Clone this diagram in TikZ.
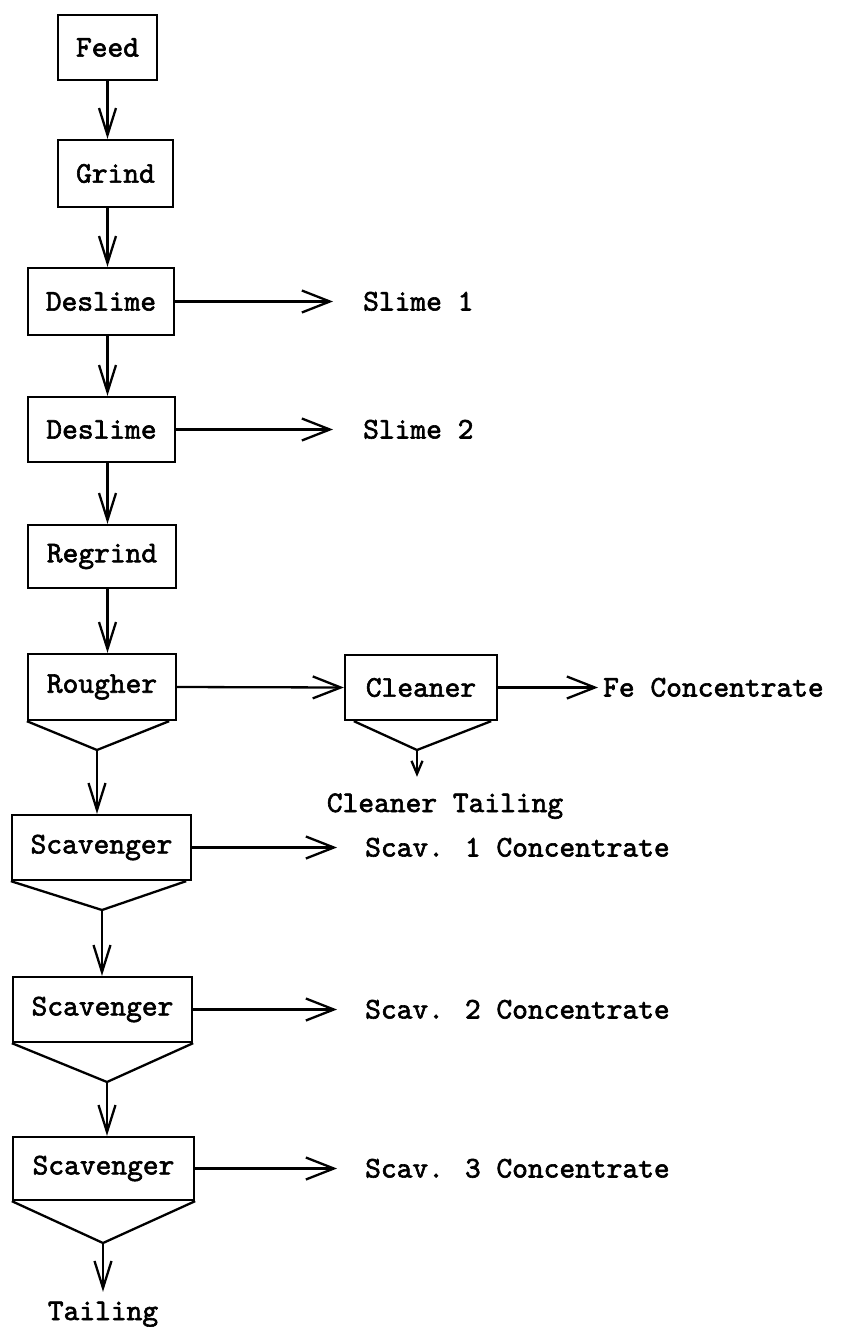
\documentclass[tikz,border=0pt]{standalone}
\usepackage{fontspec}
\newfontfamily\typer[FakeBold=2]{lmmono10-regular.otf}
\usetikzlibrary{arrows.meta}
\begin{document}
\begin{tikzpicture}[x=1pt,y=-1pt,
  tt/.style={font=\typer\fontsize{30}{33}\selectfont},
  box/.style={tt, draw, line width=2.3pt, inner sep=0pt},
  lbl/.style={tt, inner sep=0pt, text height=18pt, text depth=0pt},
  vflow/.style={line width=2.3pt, -{Straight Barb[length=27pt,width=17pt]}},
  sflow/.style={line width=2.3pt, -{Straight Barb[length=13pt,width=11pt]}},
  hflow/.style={line width=2.3pt, -{Straight Barb[length=28pt,width=22pt]}},
  funnel/.style={line width=2.3pt, line join=round}]
\useasboundingbox[fill=white] (0,0) rectangle (846,1327);

% process boxes
\node[box, minimum width=99pt,  minimum height=65pt] (feed)    at (107.5,47.5)  {Feed};
\node[box, minimum width=115pt, minimum height=67pt] (grind)   at (115.5,173.5) {Grind};
\node[box, minimum width=146pt, minimum height=67pt] (des1)    at (101,301.5)   {Deslime};
\node[box, minimum width=147pt, minimum height=65pt] (des2)    at (101.5,429.5) {Deslime};
\node[box, minimum width=148pt, minimum height=63pt] (regrind) at (102,556.5)   {Regrind};
\node[box, minimum width=148pt, minimum height=66pt] (rougher) at (102,687)     {Rougher};
\node[box, minimum width=179pt, minimum height=65pt] (scav1)   at (101.5,847.5) {Scavenger};
\node[box, minimum width=179pt, minimum height=65pt] (scav2)   at (102.5,1009.5){Scavenger};
\node[box, minimum width=181pt, minimum height=63pt] (scav3)   at (103.5,1168.5){Scavenger};
\node[box, minimum width=152pt, minimum height=65pt] (cleaner) at (421,687.5)   {Cleaner};

% product labels
\node[lbl, anchor=west] (s1)  at (363,301.5)  {Slime 1};
\node[lbl, anchor=west] (s2)  at (363,429.5)  {Slime 2};
\node[lbl, anchor=west] (fe)  at (603,687.5)  {Fe Concentrate};
\node[lbl, anchor=west] (c1)  at (365,847.5)  {Scav. 1 Concentrate};
\node[lbl, anchor=west] (c2)  at (365,1009.5) {Scav. 2 Concentrate};
\node[lbl, anchor=west] (c3)  at (365,1168.5) {Scav. 3 Concentrate};
\node[lbl, anchor=base] (ctail) at (445,812)  {Cleaner Tailing};
\node[lbl, anchor=base] (tail)  at (103,1320) {Tailing};

% main feed line
\draw[vflow] (feed.south) -- (feed.south |- grind.north);
\draw[vflow] (grind.south -| feed.south) -- (des1.north -| feed.south);
\draw[vflow] (des1.south -| feed.south) -- (des2.north -| feed.south);
\draw[vflow] (des2.south -| feed.south) -- (regrind.north -| feed.south);
\draw[vflow] (regrind.south -| feed.south) -- (rougher.north -| feed.south);

% side streams
\draw[hflow] (des1.east) -- ([xshift=-30pt]s1.west);
\draw[hflow] (des2.east) -- ([xshift=-30pt]s2.west);
\draw[hflow] (rougher.east) -- (cleaner.west);
\draw[hflow] (cleaner.east) -- ([xshift=-5pt]fe.west);
\draw[hflow] (scav1.east) -- ([xshift=-28pt]c1.west);
\draw[hflow] (scav2.east) -- ([xshift=-28pt]c2.west);
\draw[hflow] (scav3.east) -- ([xshift=-28pt]c3.west);

% tailing funnels under the flotation cells
\coordinate (rv) at (97,750);
\draw[funnel] (rougher.south west) -- (rv) -- ([xshift=-8pt]rougher.south east);
\draw[vflow] (rv) -- (rv |- scav1.north);

\coordinate (cv) at (417,750);
\draw[funnel] ([xshift=10pt]cleaner.south west) -- (cv) -- ([xshift=-7pt]cleaner.south east);
\draw[sflow] (cv) -- ([yshift=17pt]cv |- ctail.north);

\coordinate (v1) at (102,910);
\draw[funnel] (scav1.south west) -- (v1) -- ([xshift=-6pt]scav1.south east);
\draw[vflow] (v1) -- (v1 |- scav2.north);

\coordinate (v2) at (107,1082);
\draw[funnel] (scav2.south west) -- (v2) -- (scav2.south east);
\draw[vflow] (v2) -- (v2 |- scav3.north);

\coordinate (v3) at (103,1243);
\draw[funnel] (scav3.south west) -- (v3) -- (scav3.south east);
\draw[vflow] (v3) -- ([yshift=10pt]tail.north);
\end{tikzpicture}
\end{document}
